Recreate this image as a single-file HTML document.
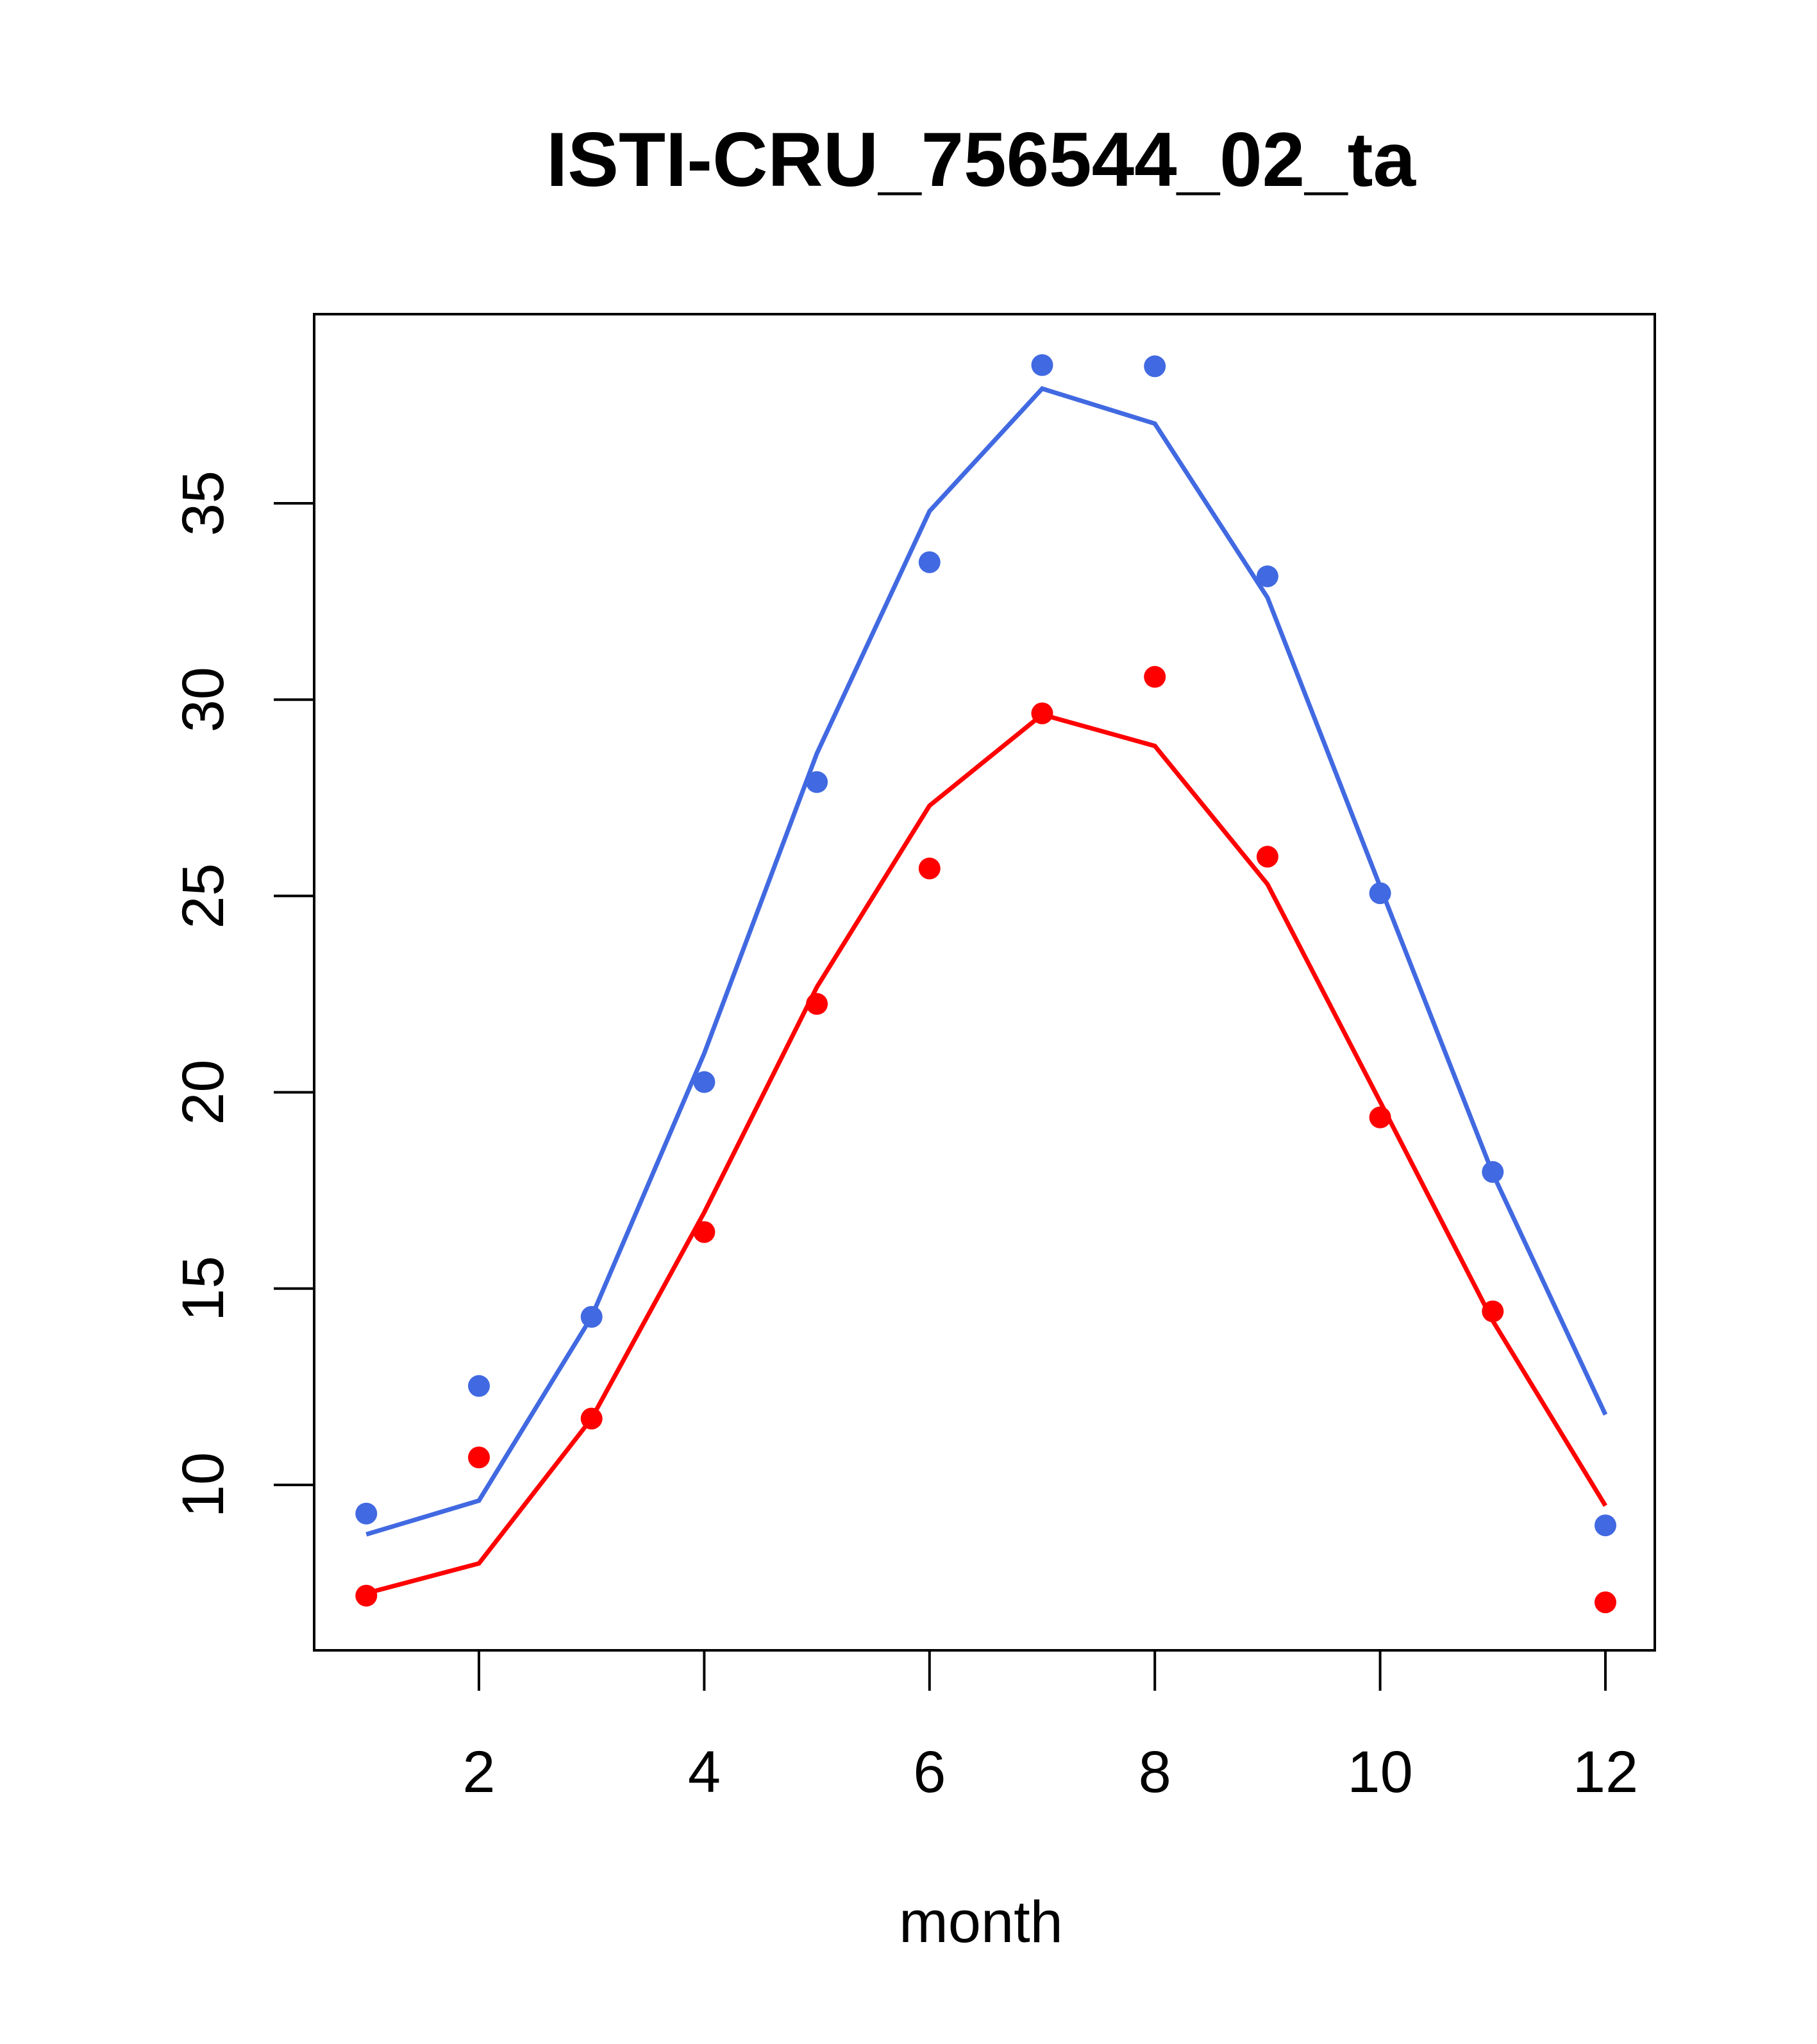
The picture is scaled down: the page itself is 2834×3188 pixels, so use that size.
<!DOCTYPE html>
<html><head><meta charset="utf-8"><style>
html,body{margin:0;padding:0;background:#fff;}
svg{display:block;}
text{font-family:"Liberation Sans",Arial,sans-serif;}
</style></head><body>
<svg id="chart" width="2834" height="3188" viewBox="0 0 2834 3188">
<rect x="0" y="0" width="2834" height="3188" fill="#fff"/>
<text x="1530" y="290" font-size="120" font-weight="bold" text-anchor="middle" textLength="1356" lengthAdjust="spacingAndGlyphs">ISTI-CRU_756544_02_ta</text>
<text x="1530" y="3029" font-size="92" text-anchor="middle">month</text>
<rect x="490" y="490" width="2091" height="2084" fill="none" stroke="#000" stroke-width="4"/>
<g id="xaxis"></g>
<g id="yaxis"></g>
<g id="series"></g>
</svg>
<script>
const months = [1,2,3,4,5,6,7,8,9,10,11,12];
const xTicks = [2,4,6,8,10,12];
const yTicks = [10,15,20,25,30,35];
const bluePoints = [9.27,12.52,14.28,20.26,27.9,33.5,38.52,38.49,33.14,25.07,17.97,8.97];
const blueLine = [8.74,9.6,14.28,20.99,28.63,34.8,37.92,37.03,32.6,25.24,17.93,11.79];
const redPoints = [7.18,10.7,11.69,16.44,22.25,25.7,29.65,30.58,26.0,19.36,14.42,7.01];
const redLine = [7.24,8.0,11.69,16.94,22.68,27.3,29.62,28.82,25.3,19.76,14.18,9.47];

const NS = "http://www.w3.org/2000/svg";
function xs(m){ return 747 + (m-2)*(2504-747)/10; }
function ys(v){ return 2316 - (v-10)*(2316-785)/25; }
function mk(tag, attrs, parent){
  const e = document.createElementNS(NS, tag);
  for (const k in attrs) e.setAttribute(k, attrs[k]);
  parent.appendChild(e);
  return e;
}
const xg = document.getElementById('xaxis');
const yg = document.getElementById('yaxis');
const sg = document.getElementById('series');

mk('line',{x1:xs(2),x2:xs(12),y1:2574,y2:2574,stroke:'#000','stroke-width':4},xg);
xTicks.forEach(t=>{
  const l = mk('line',{x1:xs(t),x2:xs(t),y1:2574,y2:2637,stroke:'#000','stroke-width':4},xg);
  
  
  const tx = mk('text',{x:xs(t),y:2795,'font-size':92,'text-anchor':'middle'},xg);
  tx.textContent = t;
  
  
});
mk('line',{x1:490,x2:490,y1:ys(10),y2:ys(35),stroke:'#000','stroke-width':4},yg);
yTicks.forEach(t=>{
  const l = mk('line',{x1:427,x2:490,y1:ys(t),y2:ys(t),stroke:'#000','stroke-width':4},yg);
  
  
  const tx = mk('text',{x:0,y:0,'font-size':92,'text-anchor':'middle',transform:'translate(348,'+ys(t)+') rotate(-90)'},yg);
  tx.textContent = t;
  
  
});

function drawLine(vals,color,name){
  const pts = vals.map((v,i)=>xs(months[i])+','+ys(v)).join(' ');
  const p = mk('polyline',{points:pts,fill:'none',stroke:color,'stroke-width':7},sg);
  
  
}
function drawPts(vals,color,name){
  vals.forEach((v,i)=>{
    const c = mk('circle',{cx:xs(months[i]),cy:ys(v),r:17,fill:color},sg);
    
    
  });
}
drawLine(blueLine,'#4169E1','blue-line');
drawLine(redLine,'#FF0000','red-line');
drawPts(bluePoints,'#4169E1','blue-point');
drawPts(redPoints,'#FF0000','red-point');
</script>
</body></html>
